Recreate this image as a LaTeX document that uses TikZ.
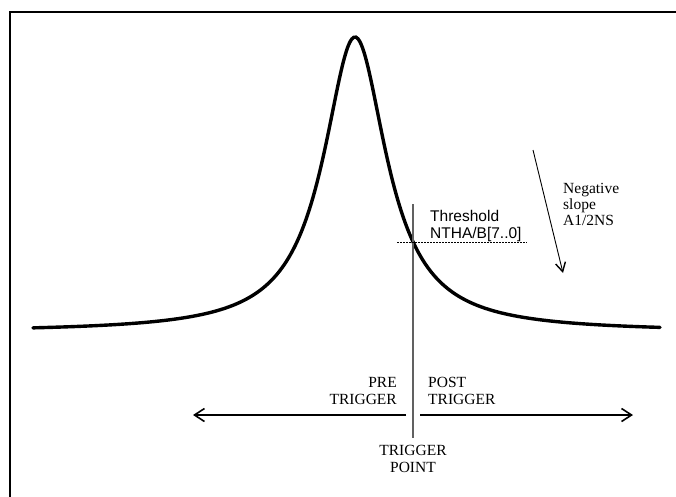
\documentclass[tikz,border=0pt]{standalone}
\usepackage{fontspec}
\setmainfont{Liberation Serif}
\newfontfamily\arialfont{Liberation Sans}
\usetikzlibrary{arrows.meta,positioning}

\begin{document}
\begin{tikzpicture}[
  x=1pt,y=-1pt,
  frame/.style={line width=2pt},
  pulse/.style={line width=3.4pt,line cap=round},
  trigline/.style={line width=1.8pt,draw=black!62},
  thresh/.style={line width=1pt,dash pattern=on 1.5pt off 1.5pt},
  span/.style={-{Straight Barb[length=10pt,width=13pt,line width=1.6pt]},line width=1.5pt},
  slope/.style={-{Straight Barb[length=9pt,width=10pt,line width=1.4pt]},line width=0.9pt},
  lbl/.style={inner sep=0pt,font=\fontsize{15.5}{16.5}\selectfont}]
\useasboundingbox (0,0) rectangle (676,496);
\draw[frame] (10,500) |- (680,12);
% signal pulse
\draw[pulse] plot[domain=33:660,samples=300,smooth] (\x,{332-295/(1+((\x-355)/38.5)^2)});
% trigger point and threshold
\coordinate (trigtop) at (413,204);
\coordinate (trigbot) at (413,438);
\coordinate (threshL) at (397,242);
\coordinate (threshR) at (527,242);
\draw[trigline] (trigtop)--(trigbot);
\draw[thresh] (threshL)--(threshR);
\node[lbl,anchor=base west,align=left,font=\arialfont\fontsize{15.5}{17}\selectfont] (threshold) at (430,238) {Threshold\\NTHA/B[7..0]};
% slope
\coordinate (slopetop) at (533,150);
\coordinate (slopetip) at (563,273);
\draw[slope] (slopetop)--(slopetip);
\node[lbl,anchor=base west,align=left,font=\fontsize{15.5}{16}\selectfont] (slopelabel) at (563,225) {Negative\\slope\\A1/2NS};
% pre/post trigger spans
\coordinate (preR) at (406,415);
\coordinate (preL) at (193,415);
\coordinate (postL) at (420,415);
\coordinate (postR) at (633,415);
\draw[span] (preR)--(preL);
\draw[span] (postL)--(postR);
\node[lbl,anchor=base east,align=right,font=\fontsize{15.5}{17}\selectfont] (pretrig) at (397,404) {PRE\\TRIGGER};
\node[lbl,anchor=base west,align=left,font=\fontsize{15.5}{17}\selectfont] (posttrig) at (428,404) {POST\\TRIGGER};
\node[lbl,anchor=base,align=center] (trigpoint) at (413,472) {TRIGGER\\POINT};
\end{tikzpicture}
\end{document}
